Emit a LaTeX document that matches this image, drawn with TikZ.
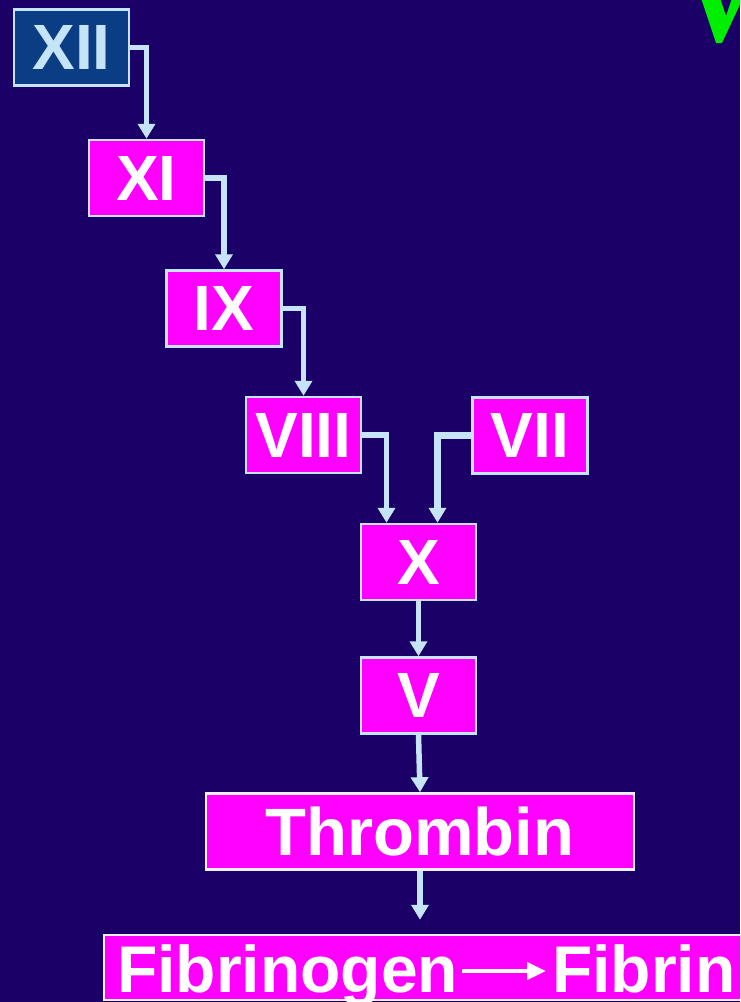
\documentclass[tikz,border=0pt]{standalone}
\usepackage{fontspec}
\setmainfont{Liberation Sans}
\usetikzlibrary{arrows.meta}
\definecolor{bg}{HTML}{1B0068}
\definecolor{mag}{HTML}{FF00FF}
\definecolor{lb}{HTML}{C6E4F8}
\definecolor{dkb}{HTML}{0B3D84}
\definecolor{grn}{HTML}{00EE00}
\definecolor{wb}{HTML}{F2F0FF}
\tikzset{
 box/.style={draw=lb, line width=2.5pt, fill=mag, text=white,
   font=\bfseries\fontsize{64}{64}\selectfont, inner sep=0pt,
   minimum width=115pt, minimum height=76pt},
 widebox/.style={box, draw=wb},
 lbl/.style={text=white, font=\bfseries\fontsize{66}{66}\selectfont, inner sep=0pt},
 link/.style={draw=lb, line width=5.5pt, -{Triangle[width=17pt,length=15pt]}},
 thicklink/.style={link, line width=7pt},
 inlink/.style={draw=white, line width=4.5pt, -{Triangle[width=17pt,length=19pt]}},
}
\begin{document}
\begin{tikzpicture}[x=1pt,y=-1pt]
\useasboundingbox (0,0) rectangle (740,1002);
\clip (0,0) rectangle (740,1002);
\fill[bg] (0,0) rectangle (740,1002);

% green mark (cut off at the corner)
\fill[grn] (701,-2) -- (716,43) -- (722,43) -- (743,-2) -- (732,-2) -- (726,16) -- (720,-2) -- cycle;

\node[box, fill=dkb, text=lb] (f12) at (71.5,47.5) {XII};
\node[box] (f11) at (146.5,178) {XI};
\node[box] (f9) at (224,308.5) {IX};
\node[box] (f8) at (303.5,435) {VIII};
\node[box] (f7) at (530,435.5) {VII};
\node[box] (f10) at (418.5,562) {X};
\node[box] (f5) at (418.5,695.5) {V};
\node[widebox, minimum width=428pt, font=\bfseries\fontsize{67}{67}\selectfont] (thr) at (420,831.5) {Thrombin};
\node[widebox, minimum width=650pt, minimum height=65pt] (fib) at (429,967.5) {};
\node[lbl, anchor=base west] (fgen) at (117,992) {Fibrinogen};
\node[lbl, anchor=base west] (frin) at (552,992) {Fibrin};

\draw[link] (f12.east) -| (f11.north);
\draw[link] (f11.east) -| (f9.north);
\draw[link] (f9.east) -| (f8.north);
\draw[link] (f8.east) -| ([xshift=-32pt]f10.north);
\draw[thicklink] (f7.west) -| ([xshift=19pt]f10.north);
\draw[link] (f10.south) -- (f5.north);
\draw[link] (f5.south) -- (thr.north);
\draw[link] (thr.south) -- ([yshift=14pt]thr.south |- fib.north);
\draw[inlink] ([xshift=4pt,yshift=21pt]fgen.base east) -- ([xshift=-6pt,yshift=21pt]frin.base west);
\end{tikzpicture}
\end{document}
